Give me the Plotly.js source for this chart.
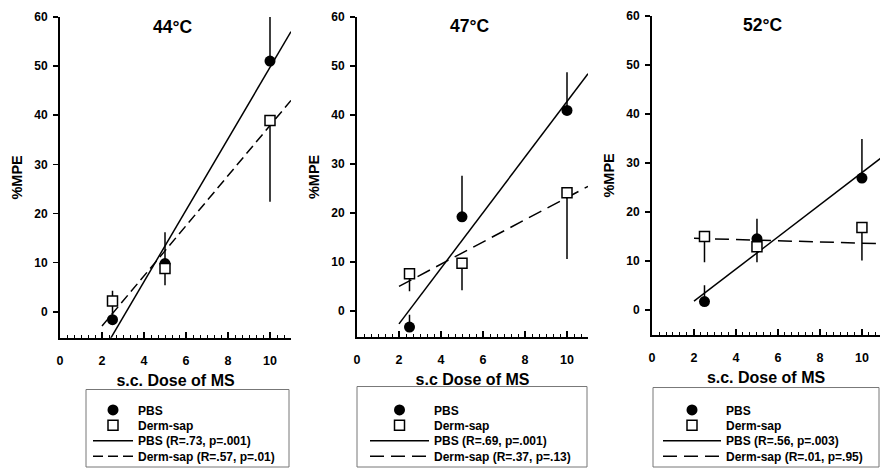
<!DOCTYPE html>
<html><head><meta charset="utf-8">
<script src="https://cdn.plot.ly/plotly-3.0.1.min.js"></script>
<style>html,body{margin:0;padding:0;background:#fff}#chart{width:880px;height:471px}</style>
</head><body><div id="chart"></div>
<script>
// ---- data ----
const doses = [2.5, 5, 10];
const fitX = [2, 11];
const panelTitles = ['44°C', '47°C', '52°C'];
const xTitles = ['s.c. Dose of MS', 's.c Dose of MS', 's.c. Dose of MS'];
const yTitle = '%MPE';

const pbs44 = [-1.6, 9.8, 51.0];
const pbs44Up = [3.5, 6.4, 9.0];
const derm44 = [2.2, 8.8, 38.9];
const derm44Up = [2.1, 0, 0];
const derm44Down = [0, 3.4, 16.5];
const pbsFit44 = [-8.4, 57.0];
const dermFit44 = [-2.9, 43.0];

const pbs47 = [-3.3, 19.2, 40.9];
const pbs47Up = [2.5, 8.4, 7.8];
const derm47 = [7.6, 9.7, 24.1];
const derm47Up = [0, 0, 0];
const derm47Down = [3.6, 5.5, 13.5];
const pbsFit47 = [-2.65, 48.4];
const dermFit47 = [5.0, 25.4];

const pbs52 = [1.7, 14.5, 26.9];
const pbs52Up = [3.3, 4.1, 8.0];
const derm52 = [15.0, 12.9, 16.8];
const derm52Up = [0, 0, 0];
const derm52Down = [5.3, 3.2, 6.7];
const pbsFit52 = [1.77, 31.3];
const dermFit52 = [14.6, 13.5];

const pbsFitLabels = ['PBS (R=.73, p=.001)', 'PBS (R=.69, p=.001)', 'PBS (R=.56, p=.003)'];
const dermFitLabels = ['Derm-sap (R=.57, p=.01)', 'Derm-sap (R=.37, p=.13)', 'Derm-sap (R=.01, p=.95)'];

// ---- assembly ----
const FONT = 'Liberation Sans, Arial, Helvetica, sans-serif';
const panels = [
  {pbs: pbs44, pbsUp: pbs44Up, derm: derm44, dermUp: derm44Up, dermDown: derm44Down, pbsFit: pbsFit44, dermFit: dermFit44, dash: '10px,5px'},
  {pbs: pbs47, pbsUp: pbs47Up, derm: derm47, dermUp: derm47Up, dermDown: derm47Down, pbsFit: pbsFit47, dermFit: dermFit47, dash: '14px,7px'},
  {pbs: pbs52, pbsUp: pbs52Up, derm: derm52, dermUp: derm52Up, dermDown: derm52Down, pbsFit: pbsFit52, dermFit: dermFit52, dash: '14px,7px'}
];

// one legend per entry so rows can sit as tightly as in the reference
// panel i, row k (0..3) -> legend number 4i+k+1
const legId = (i, k) => { const n = 4 * i + k + 1; return n === 1 ? 'legend' : 'legend' + n; };

const traces = [];
panels.forEach((p, i) => {
  const s = i === 0 ? '' : String(i + 1);
  const ax = {xaxis: 'x' + s, yaxis: 'y' + s, hoverinfo: 'skip'};
  traces.push(Object.assign({
    x: fitX, y: p.pbsFit, mode: 'lines', name: pbsFitLabels[i], legend: legId(i, 2),
    line: {color: '#000', width: 1.5}
  }, ax));
  traces.push(Object.assign({
    x: fitX, y: p.dermFit, mode: 'lines', name: dermFitLabels[i], legend: legId(i, 3),
    line: {color: '#000', width: 1.5, dash: p.dash}
  }, ax));
  traces.push(Object.assign({
    x: doses, y: p.pbs, mode: 'markers', name: 'PBS', legend: legId(i, 0), cliponaxis: false,
    marker: {symbol: 'circle', size: 11, color: '#000'},
    error_y: {type: 'data', symmetric: false, array: p.pbsUp, arrayminus: [0, 0, 0], width: 0, thickness: 1.5, color: '#000'}
  }, ax));
  traces.push(Object.assign({
    x: doses, y: p.derm, mode: 'markers', name: 'Derm-sap', legend: legId(i, 1), cliponaxis: false,
    marker: {symbol: 'square', size: 10, color: '#fff', line: {color: '#000', width: 1.5}},
    error_y: {type: 'data', symmetric: false, array: p.dermUp, arrayminus: p.dermDown, width: 0, thickness: 1.5, color: '#000'}
  }, ax));
});

const W = 880, H = 471;
const xDom = [[60 / W, 291 / W], [357 / W, 588 / W], [652 / W, 1]];
const yDom = [[1 - 340 / H, 1 - 17 / H], [1 - 339 / H, 1 - 17 / H], [1 - 337 / H, 1 - 16 / H]];
const xRanges = [[0, 11], [0, 11], [0, 10.86]];
const yRanges = [[-5.3, 60], [-5.3, 60], [-5.1, 60]];
const legendBoxes = [[86, 289, 392, 470], [357, 587, 389, 470], [653, 879, 390, 470]];
// [left px, itemwidth]
const legendLeft = [[88, 40], [365, 59], [658, 58]];
// top px of each single-entry legend (row centre is about 11px lower)
const legendTops = [398, 413.5, 429, 444.5];

const layout = {
  width: W, height: H,
  margin: {l: 0, r: 0, t: 0, b: 0},
  paper_bgcolor: '#fff', plot_bgcolor: '#fff',
  font: {family: FONT, color: '#000', weight: 'bold'},
  showlegend: true,
  annotations: [], shapes: []
};

for (let i = 0; i < 3; i++) {
  const s = i === 0 ? '' : String(i + 1);
  layout['xaxis' + s] = {
    domain: xDom[i], range: xRanges[i], anchor: 'y' + s,
    showline: true, linewidth: 2, linecolor: '#000', mirror: false,
    showgrid: false, zeroline: false,
    ticks: 'inside', ticklen: 6, tickwidth: 1.5, tickcolor: '#000',
    tick0: 0, dtick: 2, ticklabelstandoff: 10,
    minor: {ticks: 'inside', ticklen: 3, tickwidth: 1, tickcolor: '#000', dtick: 1 / 3, tick0: 0, showgrid: false},
    tickfont: {size: 12.5, family: FONT, weight: 'bold'},
    title: {text: xTitles[i], font: {size: 16, family: FONT, weight: 'bold'}, standoff: 8},
    automargin: false, fixedrange: true
  };
  layout['yaxis' + s] = {
    domain: yDom[i], range: yRanges[i], anchor: 'x' + s,
    showline: true, linewidth: 2, linecolor: '#000',
    showgrid: false, zeroline: false,
    ticks: 'outside', ticklen: 5, tickwidth: 1.5, tickcolor: '#000',
    tick0: 0, dtick: 10, ticklabelstandoff: 3,
    tickfont: {size: 12, family: FONT, weight: 'bold'},
    title: {text: yTitle, font: {size: 14.5, family: FONT, weight: 'bold'}, standoff: 8},
    automargin: false, fixedrange: true
  };
  layout.annotations.push({
    xref: 'x' + s + ' domain', yref: 'y' + s + ' domain', x: 0.485, y: 0.97,
    xanchor: 'center', yanchor: 'middle', showarrow: false,
    text: panelTitles[i], font: {size: 17.5, family: FONT, weight: 'bold', color: '#000'}
  });
  const b = legendBoxes[i];
  layout.shapes.push({
    type: 'rect', xref: 'paper', yref: 'paper',
    x0: b[0] / W, x1: b[1] / W, y0: 1 - b[3] / H, y1: 1 - b[2] / H,
    line: {color: '#777', width: 1}, fillcolor: 'rgba(0,0,0,0)'
  });
  const ll = legendLeft[i];
  for (let k = 0; k < 4; k++) {
    layout[legId(i, k)] = {
      x: ll[0] / W, y: 1 - legendTops[k] / H, xanchor: 'left', yanchor: 'top',
      bgcolor: 'rgba(0,0,0,0)', borderwidth: 0, itemwidth: ll[1],
      font: {size: 12, family: FONT, weight: 'bold', color: '#000'},
      itemclick: false, itemdoubleclick: false
    };
  }
}

Plotly.newPlot('chart', traces, layout, {displayModeBar: false, staticPlot: true});
</script></body></html>
